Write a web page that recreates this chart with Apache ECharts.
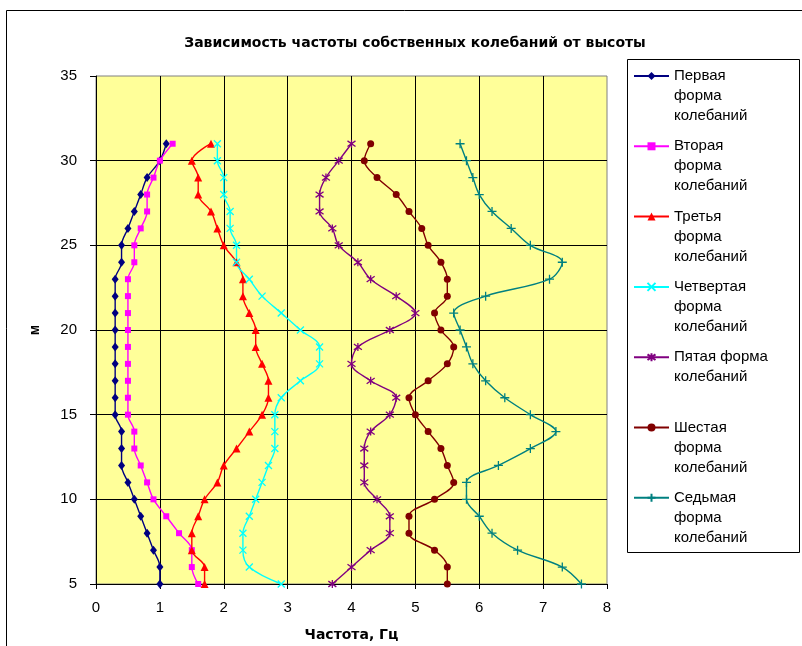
<!DOCTYPE html>
<html>
<head>
<meta charset="utf-8">
<script src="https://cdn.jsdelivr.net/npm/echarts@6/dist/echarts.min.js"></script>
<style>
  html, body { margin: 0; padding: 0; background: #fff; }
  #chart { width: 802px; height: 646px; }
</style>
</head>
<body>
<div id="chart"></div>
<script>
// высоты, м
const heights = [5, 6, 7, 8, 9, 10, 11, 12, 13, 14, 15, 16, 17, 18, 19, 20, 21, 22, 23, 24, 25, 26, 27, 28, 29, 30, 31]

// частоты по формам колебаний, Гц (снизу вверх)
const form1 = [1.0, 1.0, 0.9, 0.8, 0.7, 0.6, 0.5, 0.4, 0.4, 0.4, 0.3, 0.3, 0.3, 0.3, 0.3, 0.3, 0.3, 0.3, 0.3, 0.4, 0.4, 0.5, 0.6, 0.7, 0.8, 1.0, 1.1]
const form2 = [1.6, 1.5, 1.5, 1.3, 1.1, 0.9, 0.8, 0.7, 0.6, 0.6, 0.5, 0.5, 0.5, 0.5, 0.5, 0.5, 0.5, 0.5, 0.5, 0.6, 0.6, 0.7, 0.8, 0.8, 0.9, 1.0, 1.2]
const form3 = [1.7, 1.7, 1.5, 1.5, 1.6, 1.7, 1.9, 2.0, 2.2, 2.4, 2.6, 2.7, 2.7, 2.6, 2.5, 2.5, 2.4, 2.3, 2.3, 2.2, 2.0, 1.9, 1.8, 1.6, 1.6, 1.5, 1.8]
const form4 = [2.9, 2.4, 2.3, 2.3, 2.4, 2.5, 2.6, 2.7, 2.8, 2.8, 2.8, 2.9, 3.2, 3.5, 3.5, 3.2, 2.9, 2.6, 2.4, 2.2, 2.2, 2.1, 2.1, 2.0, 2.0, 1.9, 1.9]
const form5 = [3.7, 4.0, 4.3, 4.6, 4.6, 4.4, 4.2, 4.2, 4.2, 4.3, 4.6, 4.7, 4.3, 4.0, 4.1, 4.6, 5.0, 4.7, 4.3, 4.1, 3.8, 3.7, 3.5, 3.5, 3.6, 3.8, 4.0]
const form6 = [5.5, 5.5, 5.3, 4.9, 4.9, 5.3, 5.6, 5.5, 5.4, 5.2, 5.0, 4.9, 5.2, 5.5, 5.6, 5.4, 5.3, 5.5, 5.5, 5.4, 5.2, 5.1, 4.9, 4.7, 4.4, 4.2, 4.3]
const form7 = [7.6, 7.3, 6.6, 6.2, 6.0, 5.8, 5.8, 6.3, 6.8, 7.2, 6.8, 6.4, 6.1, 5.9, 5.8, 5.7, 5.6, 6.1, 7.1, 7.3, 6.8, 6.5, 6.2, 6.0, 5.9, 5.8, 5.7]

const names = [
  'Первая форма колебаний',
  'Вторая форма колебаний',
  'Третья форма колебаний',
  'Четвертая форма колебаний',
  'Пятая форма колебаний',
  'Шестая форма колебаний',
  'Седьмая форма колебаний'
]
// как подписи переносятся в легенде
const legendLabels = [
  'Первая\nформа\nколебаний',
  'Вторая\nформа\nколебаний',
  'Третья\nформа\nколебаний',
  'Четвертая\nформа\nколебаний',
  'Пятая форма\nколебаний',
  'Шестая\nформа\nколебаний',
  'Седьмая\nформа\nколебаний'
]

const forms = [form1, form2, form3, form4, form5, form6, form7]
const colors = ['#000080', '#ff00ff', '#ff0000', '#00ffff', '#800080', '#800000', '#008080']
const symbols = [
  'diamond',
  'rect',
  'triangle',
  'path://M0,0L10,10M10,0L0,10',
  'path://M0,0L10,10M10,0L0,10M5,-2L5,12',
  'circle',
  'path://M5,0L5,10M0,5L10,5'
]
const symbolSizes = [[7, 9], 6, 8, 7, 8, 7, 9]

const font = 'Liberation Sans, Arial, sans-serif'

var myChart = echarts.init(document.getElementById('chart'))

var series = forms.map(function (f, i) {
  var stroked = symbols[i].indexOf('path://') === 0
  return {
    name: names[i],
    type: 'line',
    smooth: 0.35,
    symbol: symbols[i],
    symbolSize: symbolSizes[i],
    showAllSymbol: true,
    lineStyle: { color: colors[i], width: 1.4 },
    itemStyle: {
      color: colors[i],
      borderColor: colors[i],
      borderWidth: stroked ? 1.3 : 0
    },
    emphasis: { disabled: true },
    data: heights.map(function (h, k) { return [f[k], h] })
  }
})

// подпись центрируется по значку, поэтому добавляем пустые строки,
// чтобы первая строка стояла на уровне значка, а все пункты были одной высоты
function legendText(name) {
  var lines = legendLabels[names.indexOf(name)].split('\n')
  var pre = ['\u00a0', '\u00a0']
  while (pre.length + lines.length < 5) lines.push('\u00a0')
  return pre.concat(lines).join('\n')
}

var option = {
  animation: false,
  backgroundColor: '#fff',
  title: {
    text: 'Зависимость частоты собственных колебаний от высоты',
    left: 410,
    textAlign: 'center',
    top: 31,
    textStyle: { fontFamily: 'DejaVu Sans', fontSize: 14, fontWeight: 'bold', color: '#000' }
  },
  legend: {
    orient: 'vertical',
    left: 633,
    top: 26,
    padding: 0,
    itemGap: -29.7,
    itemWidth: 35,
    itemHeight: 10,
    selectedMode: false,
    formatter: legendText,
    textStyle: { fontFamily: font, fontSize: 15, lineHeight: 20, color: '#000' },
    data: names
  },
  graphic: [
    {
      type: 'rect',
      silent: true,
      shape: { x: 6.5, y: 10.5, width: 900, height: 800 },
      style: { fill: 'none', stroke: '#000', lineWidth: 1 }
    },
    {
      type: 'rect',
      silent: true,
      shape: { x: 627.5, y: 59.5, width: 172, height: 493 },
      style: { fill: 'none', stroke: '#000', lineWidth: 1 }
    }
  ],
  grid: {
    left: 96,
    top: 76,
    width: 511,
    height: 508,
    outerBoundsMode: 'none',
    show: true,
    backgroundColor: '#ffff99',
    borderColor: '#808080',
    borderWidth: 1
  },
  xAxis: {
    type: 'value',
    min: 0,
    max: 8,
    interval: 1,
    name: 'Частота, Гц',
    nameLocation: 'middle',
    nameGap: 44,
    nameMoveOverlap: false,
    nameTextStyle: { fontFamily: 'DejaVu Sans', fontSize: 14, fontWeight: 'bold', color: '#000' },
    axisLine: { show: true, onZero: false, lineStyle: { color: '#000', width: 1 } },
    axisTick: { show: true, length: 5, lineStyle: { color: '#000' } },
    axisLabel: { fontFamily: font, fontSize: 15, color: '#000', margin: 16 },
    splitLine: { show: true, showMaxLine: false, lineStyle: { color: '#000', width: 1 } }
  },
  yAxis: {
    type: 'value',
    min: 5,
    max: 35,
    interval: 5,
    name: 'м',
    nameLocation: 'middle',
    nameGap: 54,
    nameMoveOverlap: false,
    nameRotate: 90,
    nameTextStyle: { fontFamily: font, fontSize: 14, fontWeight: 'bold', color: '#000' },
    axisLine: { show: true, onZero: false, lineStyle: { color: '#000', width: 1 } },
    axisTick: { show: true, length: 6, lineStyle: { color: '#000' } },
    axisLabel: { fontFamily: font, fontSize: 15, color: '#000', margin: 19 },
    splitLine: { show: true, showMaxLine: false, lineStyle: { color: '#000', width: 1 } }
  },
  series: series
}

myChart.setOption(option)
</script>
</body>
</html>
